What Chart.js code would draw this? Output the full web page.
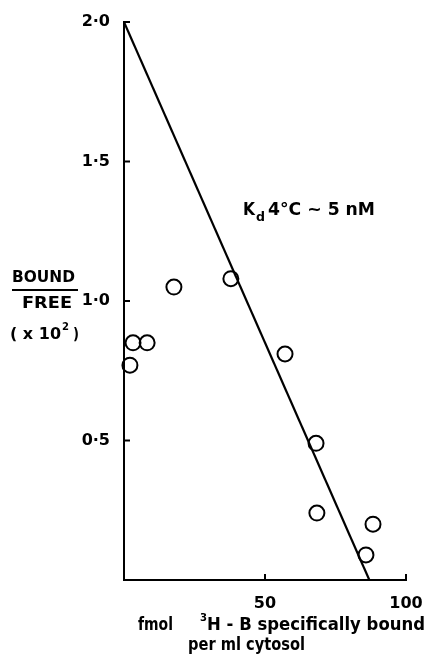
<!DOCTYPE html>
<html>
<head>
<meta charset="utf-8">
<script src="https://cdn.jsdelivr.net/npm/chart.js@4/dist/chart.umd.min.js"></script>
<style>
  html, body { margin: 0; padding: 0; background: #fff; }
  #wrap { width: 430px; height: 656px; position: relative; }
</style>
</head>
<body>
<div id="wrap"><canvas id="scatchard"></canvas></div>
<script>
// Scatchard plot: bound/free vs fmol 3H-B bound per ml cytosol
const boundX = [2.1, 3.2, 8.2, 17.7, 37.9, 57.1, 68.1, 68.4, 85.8, 88.3];
const ratioY = [0.77, 0.85, 0.85, 1.05, 1.08, 0.81, 0.49, 0.24, 0.09, 0.20];
const fitX = [0, 87];
const fitY = [2.0, 0];
const yTickValues = [0.5, 1.0, 1.5, 2.0];
const yTickLabels = ['0·5', '1·0', '1·5', '2·0'];
const xTickValues = [50, 100];
const xTickLabels = ['50', '100'];

const FONT = '"DejaVu Sans", Arial, sans-serif';

// texte étiré pour tenir dans une largeur donnée
function fitText(ctx, text, x, y, width, size) {
    ctx.font = 'bold ' + size + 'px ' + FONT;
    const w = ctx.measureText(text).width;
    ctx.save();
    ctx.translate(x, y);
    ctx.scale(width / w, 1);
    ctx.textAlign = 'left';
    ctx.fillText(text, 0, 0);
    ctx.restore();
}

// ticks inward + axis texts
const extras = {
    id: 'extras',
    afterDraw(chart) {
        const ctx = chart.ctx;
        const xs = chart.scales.x, ys = chart.scales.y;
        const left = chart.chartArea.left, bottom = chart.chartArea.bottom;
        ctx.save();
        ctx.strokeStyle = '#000';
        ctx.lineWidth = 2;
        yTickValues.forEach(v => {
            const py = ys.getPixelForValue(v);
            ctx.beginPath(); ctx.moveTo(left, py); ctx.lineTo(left + 6, py); ctx.stroke();
        });
        xTickValues.forEach(v => {
            const px = xs.getPixelForValue(v);
            ctx.beginPath(); ctx.moveTo(px, bottom); ctx.lineTo(px, bottom - 6); ctx.stroke();
        });

        ctx.fillStyle = '#000';
        ctx.textBaseline = 'alphabetic';
        // y title
        fitText(ctx, 'BOUND', 12, 282, 63, 15);
        ctx.fillRect(12, 289, 66, 2);
        fitText(ctx, 'FREE', 22, 308, 50, 15);
        fitText(ctx, '( x 10', 10, 339, 51, 15);
        fitText(ctx, ')', 73, 339, 6, 15);
        fitText(ctx, '2', 62, 330, 7, 11);

        // x title
        fitText(ctx, 'fmol', 138, 630, 35, 17);
        fitText(ctx, '3', 200, 621, 7, 11);
        fitText(ctx, 'H - B specifically bound', 207, 630, 218, 17);
        fitText(ctx, 'per ml cytosol', 188, 650, 117, 17);

        // Kd annotation
        fitText(ctx, 'K', 243, 215, 12, 17);
        fitText(ctx, 'd', 256, 221, 9, 13);
        fitText(ctx, '4°C ~ 5 nM', 268, 215, 107, 17);
        ctx.restore();
    }
};

const ctx = document.getElementById('scatchard').getContext('2d');
new Chart(ctx, {
    type: 'scatter',
    data: {
        datasets: [{
            type: 'line',
            data: fitX.map((x, i) => ({ x: x, y: fitY[i] })),
            borderColor: '#000',
            borderWidth: 2.2,
            pointRadius: 0,
            fill: false
        }, {
            data: boundX.map((x, i) => ({ x: x, y: ratioY[i] })),
            pointStyle: 'circle',
            pointRadius: 7.5,
            pointBorderWidth: 2,
            pointBackgroundColor: 'rgba(255,255,255,0)',
            pointBorderColor: '#000',
            clip: false
        }]
    },
    options: {
        responsive: true,
        maintainAspectRatio: false,
        animation: false,
        layout: { padding: { top: 22, right: 24, left: 0, bottom: 0 } },
        plugins: { legend: { display: false }, tooltip: { enabled: false } },
        scales: {
            x: {
                type: 'linear',
                min: 0, max: 100,
                afterBuildTicks: scale => { scale.ticks = xTickValues.map(v => ({ value: v })); },
                afterFit: scale => { scale.height = 76; scale.paddingRight = 0; },
                grid: { display: false, drawTicks: false },
                border: { color: '#000', width: 2 },
                ticks: {
                    color: '#000',
                    padding: 14,
                    font: { family: FONT, size: 16, weight: 'bold' },
                    callback: v => xTickLabels[xTickValues.indexOf(v)]
                }
            },
            y: {
                type: 'linear',
                min: 0, max: 2,
                afterBuildTicks: scale => { scale.ticks = yTickValues.map(v => ({ value: v })); },
                afterFit: scale => { scale.width = 124; scale.paddingTop = 0; },
                grid: { display: false, drawTicks: false },
                border: { color: '#000', width: 2 },
                ticks: {
                    color: '#000',
                    padding: 14,
                    font: { family: FONT, size: 16, weight: 'bold' },
                    callback: v => yTickLabels[yTickValues.indexOf(v)]
                }
            }
        }
    },
    plugins: [extras]
});
</script>
</body>
</html>
